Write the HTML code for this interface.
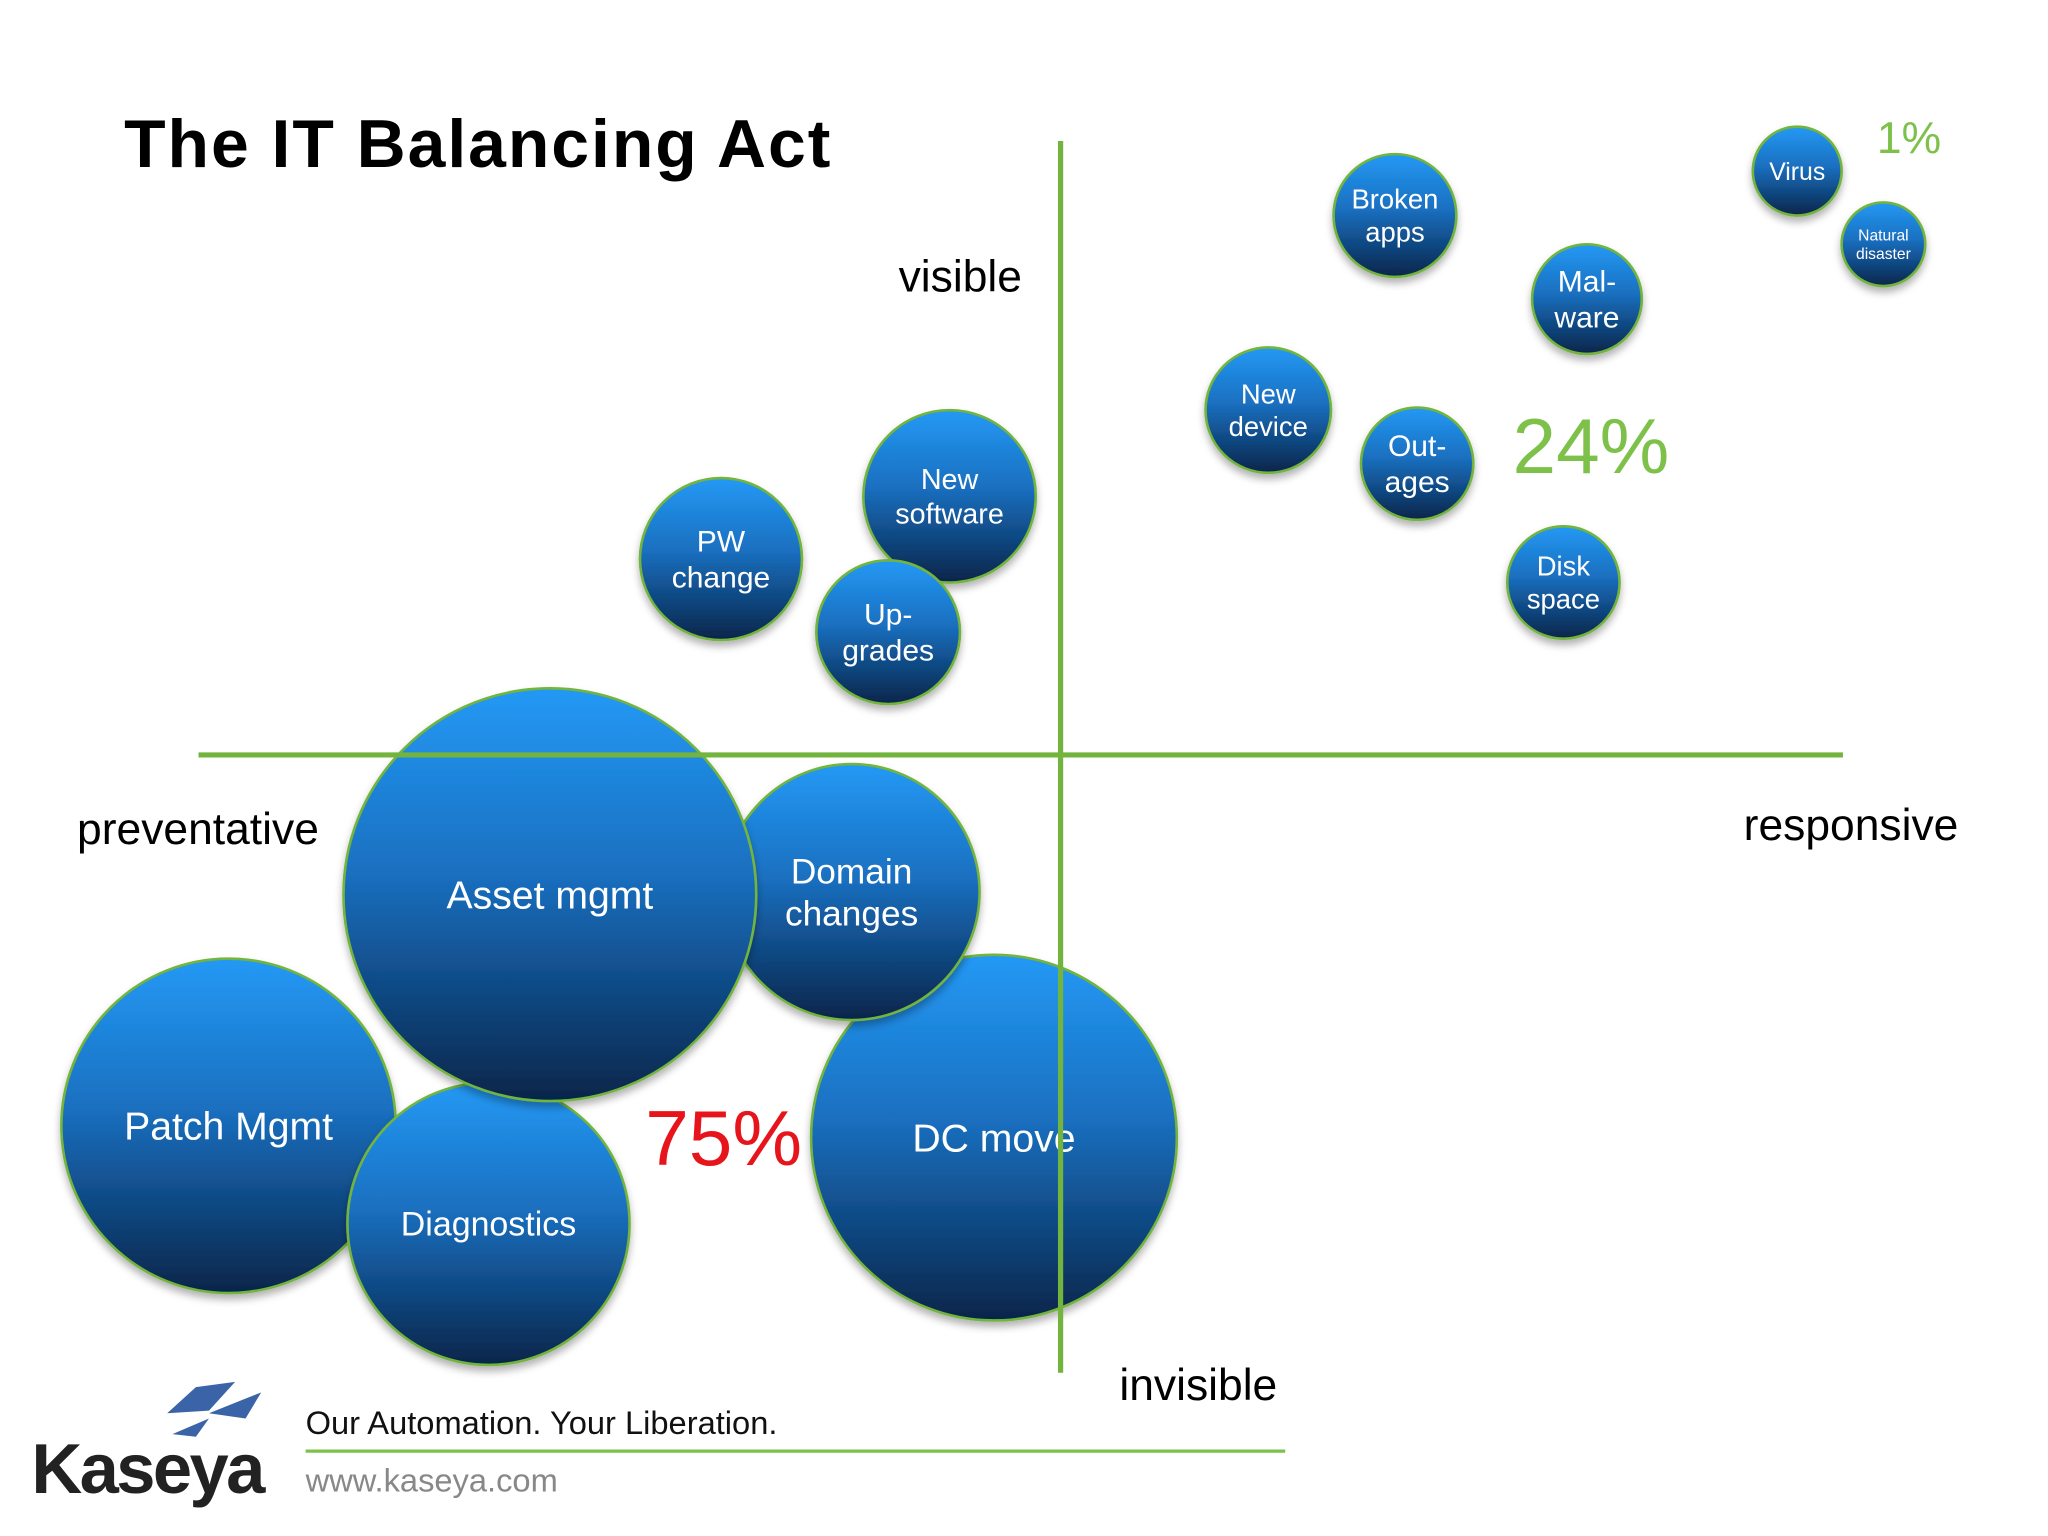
<!DOCTYPE html>
<html><head><meta charset="utf-8"><style>
html,body{margin:0;padding:0;background:#fff;}
svg{display:block;}
text{font-family:"Liberation Sans",sans-serif;}
</style></head><body>
<svg width="2048" height="1536" viewBox="0 0 1568 1176">
<defs>
<linearGradient id="bg" x1="0" y1="0" x2="0" y2="1">
<stop offset="0" stop-color="#2399f5"/><stop offset="0.45" stop-color="#1a6fbf"/><stop offset="1" stop-color="#06254a"/>
</linearGradient>
<filter id="sh" x="-20%" y="-20%" width="140%" height="150%"><feDropShadow dx="0" dy="4" stdDeviation="3" flood-color="#000" flood-opacity="0.3"/></filter>
</defs>
<text x="95" y="128" font-size="52" font-weight="bold" fill="#000" letter-spacing="1.5">The IT Balancing Act</text>
<g id="bubbles"></g>
<line x1="152" y1="578" x2="1411" y2="578" stroke="#72b43e" stroke-width="4"/>
<line x1="812" y1="108" x2="812" y2="1051" stroke="#72b43e" stroke-width="4"/>
<text x="688" y="223" font-size="34" fill="#000">visible</text>
<text x="59" y="646" font-size="34" fill="#000">preventative</text>
<text x="1335" y="643" font-size="34" fill="#000">responsive</text>
<text x="857" y="1072" font-size="34" fill="#000">invisible</text>
<text x="494" y="892" font-size="60" fill="#e8141b">75%</text>
<text x="1158" y="362" font-size="60" fill="#7dc14a">24%</text>
<text x="1437" y="117" font-size="34" fill="#7dc14a">1%</text>
<g>
<path d="M128 1082 L150 1062 L180 1058 L160 1080 Z M160 1082 L200 1066 L188 1086 Z M132 1098 L160 1086 L150 1100 Z" fill="#3a63a8"/>
<text x="24" y="1143" font-size="54" font-weight="bold" fill="#222" letter-spacing="-2">Kaseya</text>
<text x="234" y="1098" font-size="25" fill="#111">Our Automation. Your Liberation.</text>
<line x1="234" y1="1111" x2="984" y2="1111" stroke="#7dc14a" stroke-width="2.5"/>
<text x="234" y="1142" font-size="25" fill="#888">www.kaseya.com</text>
</g>
<script>
const labels=[["Patch Mgmt"],["Diagnostics"],["DC move"],["Domain","changes"],["Asset mgmt"],["PW","change"],["New","software"],["Up-","grades"],["New","device"],["Broken","apps"],["Mal-","ware"],["Out-","ages"],["Disk","space"],["Virus"],["Natural","disaster"]];
const xVals=[-6.37,-4.38,-0.51,-1.60,-3.91,-2.60,-0.85,-1.32,1.59,2.56,4.03,2.73,3.85,5.64,6.30];
const yVals=[-2.84,-3.59,-2.93,-1.05,-1.07,1.50,1.98,0.94,2.64,4.13,3.49,2.23,1.32,4.47,3.91];
const sizes=[128,108,140,98,158,62,66,55,48,47,42,43,43,34,32];
const fontSizes=[30,26,30,27,30,23,22,23,21,21,23,23,21,19,12];
const xScale=v=>812+v*100, yScale=v=>578-v*100;
const g=document.getElementById('bubbles');
const ns='http://www.w3.org/2000/svg';
labels.forEach((lab,i)=>{
 const grp=document.createElementNS(ns,'g');
 
 
 const c=document.createElementNS(ns,'circle');
 const cx=xScale(xVals[i]),cy=yScale(yVals[i]);
 c.setAttribute('cx',cx);c.setAttribute('cy',cy);c.setAttribute('r',sizes[i]);
 c.setAttribute('fill','url(#bg)');c.setAttribute('stroke','#72b43e');c.setAttribute('stroke-width','2');c.setAttribute('filter','url(#sh)');
 grp.appendChild(c);
 const fs=fontSizes[i],lh=fs*1.2;
 lab.forEach((t,j)=>{
  const tx=document.createElementNS(ns,'text');
  tx.setAttribute('x',cx);
  tx.setAttribute('y',cy+fs*0.35+(j-(lab.length-1)/2)*lh);
  tx.setAttribute('text-anchor','middle');tx.setAttribute('font-size',fs);tx.setAttribute('fill','#fff');
  tx.textContent=t;grp.appendChild(tx);
 });
 g.appendChild(grp);
});
</script>
</svg>
</body></html>
